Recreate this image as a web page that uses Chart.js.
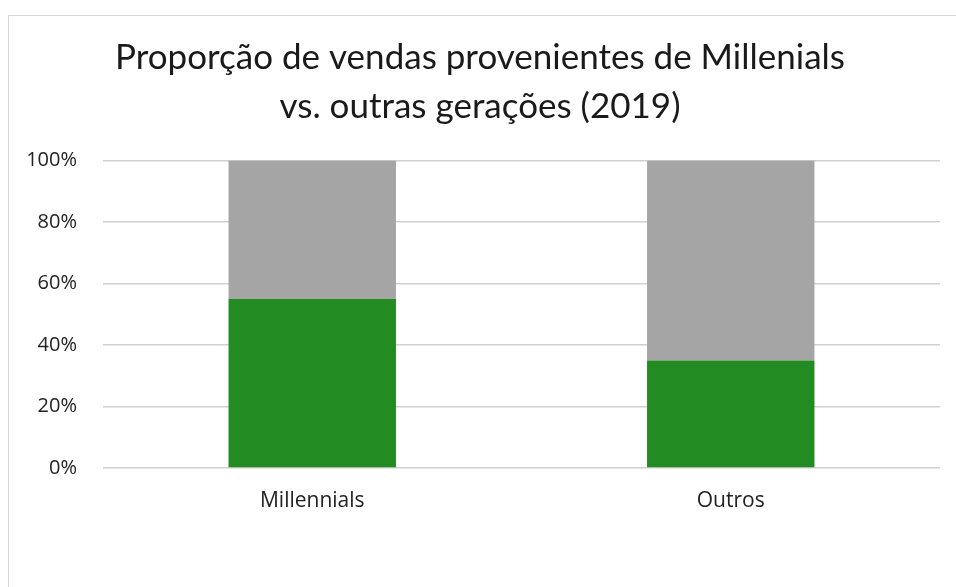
<!DOCTYPE html>
<html>
<head>
<meta charset="utf-8">
<script src="https://cdn.jsdelivr.net/npm/chart.js@4"></script>
<style>
  html, body { margin: 0; padding: 0; background: #fff; }
  #frame { position: absolute; left: 8px; top: 15px; width: 960px; height: 600px; border: 1px solid #d9d9d9; box-sizing: border-box; }
  #wrap { position: absolute; left: 0; top: 0; width: 956px; height: 587px; }
</style>
</head>
<body>
<div id="frame"></div>
<div id="wrap"><canvas id="chart"></canvas></div>
<script>
// chart data
const categories = ['Millennials', 'Outros'];
const millennialShare = [55, 35];
const otherShare = [45, 65];
const titleLines = ['Proporção de vendas provenientes de Millenials', 'vs. outras gerações (2019)'];

const ctx = document.getElementById('chart').getContext('2d');

new Chart(ctx, {
  type: 'bar',
  data: {
    labels: categories,
    datasets: [
      {
        label: 'Millennials',
        data: millennialShare,
        backgroundColor: '#228b22',
        barPercentage: 0.4,
        categoryPercentage: 1
      },
      {
        label: 'Outros',
        data: otherShare,
        backgroundColor: '#a5a5a5',
        barPercentage: 0.4,
        categoryPercentage: 1
      }
    ]
  },
  options: {
    responsive: true,
    maintainAspectRatio: false,
    animation: false,
    layout: { padding: { left: 20, right: 16, top: 0, bottom: 0 } },
    plugins: {
      legend: { display: false },
      tooltip: { enabled: false },
      title: {
        display: true,
        text: titleLines,
        color: '#1a1a1a',
        font: { family: 'Lato', size: 35, weight: 'normal', lineHeight: 1.38 },
        padding: { top: 34, bottom: 30 }
      }
    },
    scales: {
      x: {
        stacked: true,
        grid: { display: false },
        border: { display: false },
        ticks: { color: '#222', font: { family: 'Open Sans', size: 21 }, padding: 12 },
        afterFit: function (scale) { scale.height = 119; }
      },
      y: {
        stacked: true,
        min: 0,
        max: 100,
        grid: { color: '#d0d0d0', drawTicks: false, lineWidth: 1.5 },
        border: { display: false },
        ticks: {
          stepSize: 20,
          color: '#222',
          font: { family: 'Open Sans', size: 20 },
          padding: 26,
          callback: v => v + '%'
        },
        afterFit: function (scale) { scale.width = 83; }
      }
    }
  }
});
</script>
</body>
</html>
